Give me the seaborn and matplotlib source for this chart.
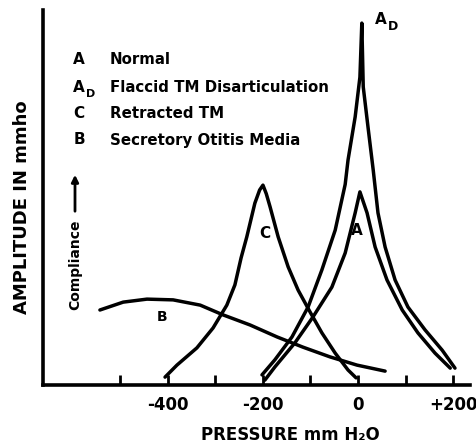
import numpy as np
import pandas as pd
import matplotlib
matplotlib.use("Agg")
import matplotlib.pyplot as plt
import seaborn as sns

# ---- data (pressure in mm H2O, amplitude in arbitrary units) ----
c_pressure = [-406, -381, -339, -305, -276, -259, -246, -234, -217, -207, -200, -193, -185, -168, -147, -126, -101, -76, -48, -21, -4]
c_amp = [0.21, 0.53, 0.99, 1.52, 2.13, 2.67, 3.39, 3.95, 4.85, 5.20, 5.33, 5.10, 4.75, 3.95, 3.15, 2.53, 1.95, 1.39, 0.85, 0.40, 0.19]

ad_pressure = [-202, -175, -139, -105, -76, -48, -27, -21, -6, 4, 8, 11, 21, 32, 42, 57, 78, 105, 141, 177, 204]
ad_amp = [0.27, 0.67, 1.28, 2.08, 3.07, 4.13, 5.35, 6.0, 7.15, 8.21, 9.65, 7.95, 6.88, 5.73, 4.59, 3.68, 2.80, 2.08, 1.47, 0.93, 0.45]

a_pressure = [-196, -175, -133, -95, -55, -27, -6, 4, 19, 36, 61, 93, 126, 162, 194]
a_amp = [0.13, 0.48, 1.12, 1.81, 2.61, 3.52, 4.59, 5.15, 4.59, 3.68, 2.80, 2.00, 1.39, 0.85, 0.45]

b_pressure = [-543, -494, -444, -389, -332, -284, -227, -170, -116, -59, -2, 57]
b_amp = [2.00, 2.21, 2.29, 2.27, 2.13, 1.87, 1.60, 1.28, 1.01, 0.75, 0.53, 0.37]

tick_positions = [-500, -400, -300, -200, -100, 0, 100, 200]
tick_labels = ["", "-400", "", "-200", "", "0", "", "+200"]

legend_keys = ["A", "A", "C", "B"]
legend_subs = ["", "D", "", ""]
legend_texts = ["Normal", "Flaccid TM Disarticulation", "Retracted TM", "Secretory Otitis Media"]

# ---- figure ----
sns.set_style("white")
plt.rcParams['font.family'] = ['DejaVu Sans']
plt.rcParams['text.color'] = 'black'
plt.rcParams['xtick.color'] = 'black'
W, H = 477, 444
fig = plt.figure(figsize=(W / 100, H / 100), dpi=100)
left_px, right_px, bottom_px, top_px = 43.5, 470, 385, 10
ax = fig.add_axes([left_px / W, 1 - bottom_px / H, (right_px - left_px) / W, (bottom_px - top_px) / H])

lw = 2.5
for px, amp in [(c_pressure, c_amp), (ad_pressure, ad_amp), (a_pressure, a_amp), (b_pressure, b_amp)]:
    df = pd.DataFrame({"pressure": px, "amp": amp})
    sns.lineplot(data=df, x="pressure", y="amp", ax=ax, color="black", lw=lw,
                 sort=False, estimator=None, solid_joinstyle="round", solid_capstyle="round")

ax.set_xlim(-661.7, 235.6)
ax.set_ylim(0, 10)
sns.despine(ax=ax)
for s in ["left", "bottom"]:
    ax.spines[s].set_linewidth(2.6)
    ax.spines[s].set_color("black")

ax.set_xticks(tick_positions)
ax.set_xticklabels(tick_labels, fontsize=12, fontweight="bold", color="black")
ax.tick_params(axis="x", bottom=True, direction="in", length=7, width=2, pad=8, color="black")
ax.set_yticks([])
ax.set_xlabel("")
ax.set_ylabel("")


def fx(x):
    return x / W


def fy(y):
    return 1 - y / H


# axis titles
fig.text(fx(290), fy(435), "PRESSURE mm H₂O", fontsize=12, fontweight="bold", ha="center", va="center")
fig.text(fx(22), fy(207), "AMPLITUDE IN mmho", fontsize=13, fontweight="bold", rotation=90,
         ha="center", va="center")
fig.text(fx(75), fy(265), "Compliance", fontsize=10, fontweight="bold", rotation=90, ha="center", va="center")
fig.add_artist(matplotlib.patches.FancyArrowPatch((fx(75), fy(214)), (fx(75), fy(172)),
                                                  transform=fig.transFigure, arrowstyle="-|>",
                                                  mutation_scale=10, lw=2, color="black"))

# legend block
rows_y = [60, 87, 113, 140]
for key, sub, txt, yy in zip(legend_keys, legend_subs, legend_texts, rows_y):
    fig.text(fx(79), fy(yy), key, fontsize=11, fontweight="bold", ha="center", va="center")
    if sub:
        fig.text(fx(91), fy(yy + 7), sub, fontsize=8, fontweight="bold", ha="center", va="center")
    fig.text(fx(110), fy(yy), txt, fontsize=10.8, fontweight="bold", ha="left", va="center")

# curve labels
fig.text(fx(381), fy(20), "A", fontsize=11, fontweight="bold", ha="center", va="center")
fig.text(fx(393), fy(26), "D", fontsize=9, fontweight="bold", ha="center", va="center")
fig.text(fx(357), fy(230), "A", fontsize=11, fontweight="bold", ha="center", va="center")
fig.text(fx(265), fy(234), "C", fontsize=11, fontweight="bold", ha="center", va="center")
fig.text(fx(162), fy(317), "B", fontsize=10, fontweight="bold", ha="center", va="center")

fig.savefig("out.png", dpi=100, facecolor="white")
